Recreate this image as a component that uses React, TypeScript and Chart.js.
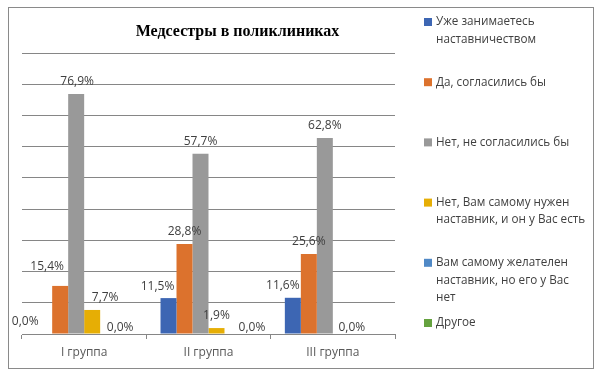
import React, { useEffect, useRef } from "react";
import { Chart, registerables } from "chart.js";

Chart.register(...registerables);

const chartTitle = "Медсестры в поликлиниках";
const categories = ["I группа", "II группа", "III группа"];
const seriesNames = [
  "Уже занимаетесь\nнаставничеством",
  "Да, согласились бы",
  "Нет, не согласились бы",
  "Нет, Вам самому нужен\nнаставник, и он у Вас есть",
  "Вам самому желателен\nнаставник, но его у Вас\nнет",
  "Другое",
];
const alreadyMentoring = [0, 11.5, 11.6];
const wouldAgree = [15.4, 28.8, 25.6];
const wouldNotAgree = [76.9, 57.7, 62.8];
const needMentorHaveOne = [7.7, 1.9, null];
const wantMentorNoneYet = [null, null, null];
const otherAnswer = [0, 0, 0];
const yMax = 90;
const yStep = 10;

const seriesValues = [
  alreadyMentoring,
  wouldAgree,
  wouldNotAgree,
  needMentorHaveOne,
  wantMentorNoneYet,
  otherAnswer,
];
const seriesColors = ["#3D66B3", "#DC722D", "#999999", "#E6AE05", "#5089C6", "#65A23F"];

// label placement tweaks (layout only)
const labelShift: Record<string, [number, number]> = {
  "0-0": [-19, -12],
  "1-0": [-13, -19],
  "2-0": [1, -12],
  "3-0": [13, -12.5],
  "5-0": [-4, -6],
  "0-1": [-11, -12],
  "5-1": [3.5, -6],
  "0-2": [-10, -12],
  "5-2": [-21, -6],
};

const FONT = "'Open Sans', 'Noto Sans', sans-serif";

const decorPlugin = {
  id: "decor",
  beforeDraw(chart: any) {
    const ctx = chart.ctx;
    ctx.save();
    ctx.fillStyle = "#ffffff";
    ctx.fillRect(0, 0, chart.width, chart.height);
    ctx.restore();
  },
  afterDraw(chart: any) {
    const ctx = chart.ctx;
    ctx.save();
    // outer border
    ctx.strokeStyle = "#8a8a8a";
    ctx.lineWidth = 1;
    ctx.strokeRect(8.5, 7.5, 585, 361);
    // title
    ctx.fillStyle = "#000000";
    ctx.font = "bold 16px 'Liberation Serif', 'Times New Roman', serif";
    ctx.textAlign = "center";
    ctx.textBaseline = "middle";
    ctx.fillText(chartTitle, 237.5, 32);
    // data labels
    ctx.font = "12px " + FONT;
    ctx.fillStyle = "#404040";
    chart.data.datasets.forEach((ds: any, di: number) => {
      const meta = chart.getDatasetMeta(di);
      meta.data.forEach((bar: any, i: number) => {
        const v = ds.data[i];
        if (v === null || v === undefined) return;
        const sh = labelShift[di + "-" + i] || [0, -12.5];
        const txt = v.toFixed(1).replace(".", ",") + "%";
        ctx.fillText(txt, bar.x + sh[0], bar.y + sh[1]);
      });
    });
    // legend
    ctx.textAlign = "left";
    ctx.font = "11.7px " + FONT;
    const lx = 424;
    const ly0 = 22;
    const gap = 60.2;
    const lineH = 17.5;
    chart.data.datasets.forEach((ds: any, di: number) => {
      const cy = ly0 + di * gap;
      ctx.fillStyle = ds.backgroundColor;
      ctx.fillRect(lx, cy - 4, 8, 8);
      ctx.fillStyle = "#404040";
      String(ds.label)
        .split("\n")
        .forEach((line: string, li: number) => {
          ctx.fillText(line, lx + 12, cy + li * lineH);
        });
    });
    ctx.restore();
  },
};

export default function App() {
  const ref = useRef<HTMLCanvasElement | null>(null);
  useEffect(() => {
    if (!ref.current) return;
    const chart = new Chart(ref.current, {
      type: "bar",
      data: {
        labels: categories,
        datasets: seriesValues.map((vals, i) => ({
          label: seriesNames[i],
          data: vals as any,
          backgroundColor: seriesColors[i],
          borderWidth: 0,
          categoryPercentage: 0.772,
          barPercentage: 1,
        })),
      },
      options: {
        animation: false,
        responsive: false,
        maintainAspectRatio: false,
        layout: { padding: { left: 22, right: 208, top: 53, bottom: 0 } },
        plugins: {
          legend: { display: false },
          title: { display: false },
          tooltip: { enabled: false },
        },
        scales: {
          x: {
            grid: {
              offset: true,
              drawOnChartArea: false,
              drawTicks: true,
              tickLength: 5,
              color: "#868686",
            },
            border: { display: true, color: "#868686" },
            ticks: {
              color: "#595959",
              font: { family: FONT, size: 12 },
              padding: 6,
              maxRotation: 0,
            },
            afterFit: (s: any) => {
              s.height = 46;
            },
          },
          y: {
            min: 0,
            max: yMax,
            ticks: { display: false, stepSize: yStep },
            grid: { color: "#868686", drawTicks: false },
            border: { display: false },
            afterFit: (s: any) => {
              s.width = 0;
            },
          },
        },
      },
      plugins: [decorPlugin],
    });
    return () => chart.destroy();
  }, []);
  return (
    <div style={{ position: "absolute", left: 0, top: 0, width: 603, height: 380 }}>
      <canvas ref={ref} width={603} height={380} style={{ width: 603, height: 380, display: "block" }} />
    </div>
  );
}
